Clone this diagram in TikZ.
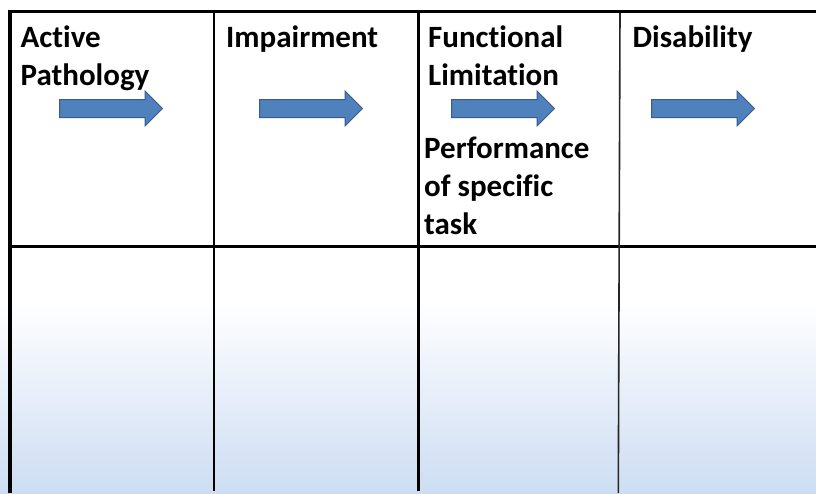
\documentclass[tikz,border=0pt]{standalone}
\usepackage{fontspec}
\setmainfont{Carlito}[Ligatures={NoCommon}]
\usetikzlibrary{shapes.arrows}
\definecolor{arrowfill}{HTML}{4F81BD}
\definecolor{arrowline}{HTML}{385D8A}
\definecolor{paleblue}{HTML}{CDDDF3}
\tikzset{
  heading/.style={anchor=base west, inner sep=0pt, text width=190pt, align=flush left,
    font=\bfseries\fontsize{31}{38.3}\selectfont},
  blockarrow/.style={single arrow, fill=arrowfill, draw=arrowline, line width=1pt,
    minimum height=103pt, minimum width=34pt, single arrow head extend=8.5pt,
    single arrow tip angle=90, inner xsep=0pt, inner ysep=8.5pt,
    text height=0pt, text depth=0pt, anchor=west},
  rule/.style={draw=black, line width=2.6pt},
  thickrule/.style={draw=black, line width=3.8pt}
}
\begin{document}
\begin{tikzpicture}[x=1pt, y=-1pt]
  \useasboundingbox (0,0) rectangle (816,493);
  % page background: white above, fading to pale blue at the foot
  \fill[white] (0,0) rectangle (816,301);
  \shade[top color=white, bottom color=paleblue] (0,300) rectangle (816,493);

  % grid corners
  \coordinate (tl) at (10,11.5);
  \coordinate (tr) at (816,11.5);
  \coordinate (bl) at (10,493);
  \coordinate (ml) at (10,246.5);
  \coordinate (mr) at (816,246.5);
  \coordinate (c1t) at (214,11.5);
  \coordinate (c1b) at (214,490.5);
  \coordinate (c2t) at (418.3,11.5);
  \coordinate (c2b) at (418.3,490.5);
  \coordinate (c3t) at (620,11.5);
  \coordinate (c3b) at (618.3,493);

  % table rules
  \draw[rule] (ml) -- (mr);
  \draw[rule] (c1t) -- (c1b);
  \draw[rule] (c2t) -- (c2b);
  \draw[draw=black!85, line width=1.6pt] (c3t) -- (c3b);
  \draw[thickrule] (8.1,11.5) -- (tr);
  \draw[thickrule] (tl) -- (bl);

  % column headings
  \node[heading] (h1) at (20.5,47) {Active\\Pathology};
  \node[heading] (h2) at (226,47) {Impairment};
  \node[heading] (h3) at (428,47) {Functional\\Limitation};
  \node[heading] (h4) at (632.5,47) {Disability};
  \node[heading] (h5) at (424,158) {Performance\\of specific\\task};

  % block arrows
  \node[blockarrow] (a1) at (59,108.5) {};
  \node[blockarrow] (a2) at (259,108.5) {};
  \node[blockarrow] (a3) at (451,108.5) {};
  \node[blockarrow] (a4) at (651,108.5) {};
\end{tikzpicture}
\end{document}
